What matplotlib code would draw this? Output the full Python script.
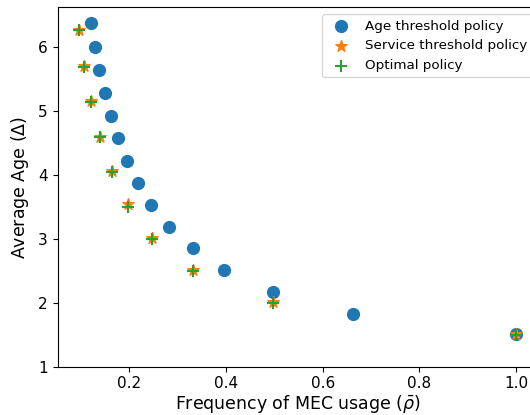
import matplotlib
matplotlib.use("Agg")
import matplotlib.pyplot as plt

# Age threshold policy
age_x = [0.1205, 0.1287, 0.138, 0.149, 0.162, 0.177, 0.196, 0.218, 0.245,
         0.281, 0.331, 0.396, 0.497, 0.663, 1.0]
age_y = [6.375, 6.005, 5.64, 5.28, 4.92, 4.57, 4.22, 3.875, 3.53,
         3.19, 2.85, 2.52, 2.17, 1.83, 1.51]

# Service threshold policy
svc_x = [0.0964, 0.1067, 0.121, 0.1397, 0.163, 0.197, 0.247, 0.331, 0.497, 1.0]
svc_y = [6.26, 5.70, 5.15, 4.60, 4.06, 3.55, 3.01, 2.51, 2.005, 1.51]

# Optimal policy
opt_x = [0.0964, 0.1067, 0.121, 0.1397, 0.163, 0.198, 0.247, 0.331, 0.497, 1.0]
opt_y = [6.26, 5.69, 5.14, 4.59, 4.05, 3.50, 3.00, 2.50, 2.00, 1.50]

fig = plt.figure(figsize=(5.3, 4.15), dpi=100)
ax = fig.add_axes([0.1085, 0.1164, 0.9065, 0.8656])

ax.scatter(age_x, age_y, s=72, marker='o', color='tab:blue', label='Age threshold policy', zorder=2)
ax.scatter(svc_x, svc_y, s=72, marker='*', color='tab:orange', label='Service threshold policy', zorder=3)
ax.scatter(opt_x, opt_y, s=72, marker='+', color='tab:green', linewidths=1.5, label='Optimal policy', zorder=4)

ax.set_ylim(bottom=1)
ax.set_xticks([0.2, 0.4, 0.6, 0.8, 1.0])
ax.tick_params(labelsize=11)
ax.set_xlabel(r'Frequency of MEC usage ($\bar{\rho}$)', fontsize=12.5, labelpad=1)
ax.set_ylabel(r'Average Age ($\Delta$)', fontsize=12.5, labelpad=5)
ax.legend(loc='upper right', fontsize=9.7, bbox_to_anchor=(1.003, 1.0))

fig.savefig('out.png', dpi=100)
